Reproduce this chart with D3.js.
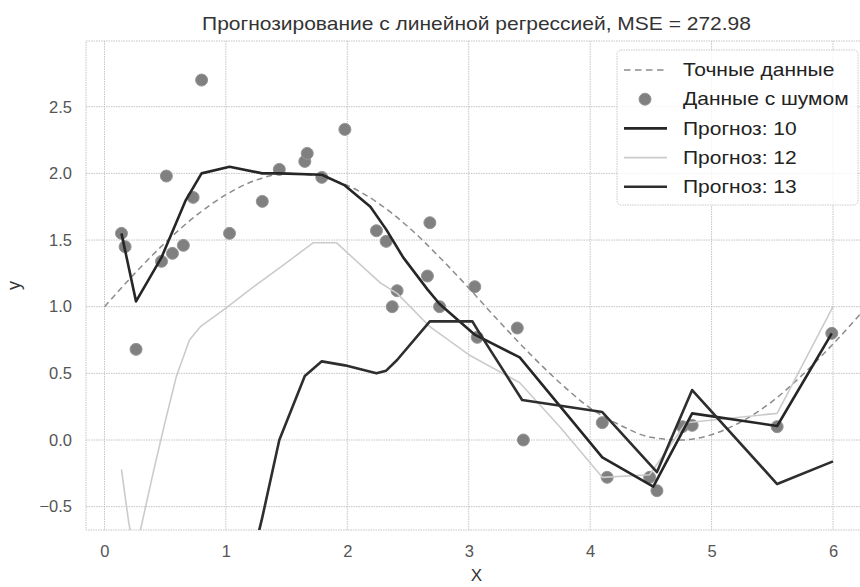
<!DOCTYPE html>
<html>
<head>
<meta charset="utf-8">
<script src="https://cdn.jsdelivr.net/npm/d3@7"></script>
<style>
  html, body { margin: 0; padding: 0; background: #fff; }
  svg { display: block; font-family: "Liberation Sans", Arial, sans-serif; }
</style>
</head>
<body>
<svg id="chart" width="860" height="587"></svg>
<script>
// Exact curve, sampled
const trueX = [0, 0.25, 0.5, 0.75, 1.0, 1.25, 1.5, 1.75, 2.0, 2.25, 2.5, 2.75, 3.0, 3.25, 3.5, 3.75, 4.0, 4.25, 4.5, 4.75, 5.0, 5.25, 5.5, 5.75, 6.0, 6.25];
const trueY = [1.00, 1.25, 1.48, 1.68, 1.84, 1.95, 2.00, 1.98, 1.91, 1.78, 1.60, 1.38, 1.14, 0.89, 0.65, 0.43, 0.24, 0.11, 0.02, 0.00, 0.04, 0.14, 0.29, 0.49, 0.72, 0.97];

// Noisy observations
const noisyX = [0.14, 0.17, 0.26, 0.47, 0.51, 0.56, 0.65, 0.73, 0.80, 1.03, 1.30, 1.44, 1.65, 1.67, 1.79, 1.98, 2.24, 2.32, 2.37, 2.41, 2.66, 2.68, 2.76, 3.05, 3.07, 3.40, 3.45, 4.10, 4.14, 4.49, 4.55, 4.76, 4.84, 5.54, 5.99];
const noisyY = [1.55, 1.45, 0.68, 1.34, 1.98, 1.40, 1.46, 1.82, 2.70, 1.55, 1.79, 2.03, 2.09, 2.15, 1.97, 2.33, 1.57, 1.49, 1.00, 1.12, 1.23, 1.63, 1.00, 1.15, 0.77, 0.84, 0.00, 0.13, -0.28, -0.28, -0.38, 0.10, 0.11, 0.10, 0.80];

// Forecast 10
const f10X = [0.14, 0.26, 0.47, 0.67, 0.80, 1.03, 1.30, 1.44, 1.79, 1.98, 2.19, 2.32, 2.46, 2.66, 2.76, 3.05, 3.42, 4.10, 4.52, 4.84, 5.54, 5.99];
const f10Y = [1.55, 1.04, 1.37, 1.80, 2.00, 2.05, 2.00, 2.00, 1.99, 1.91, 1.75, 1.58, 1.37, 1.13, 1.02, 0.79, 0.62, -0.13, -0.35, 0.20, 0.105, 0.80];

// Forecast 12
const f12X = [0.14, 0.20, 0.25, 0.30, 0.40, 0.49, 0.59, 0.70, 0.79, 1.00, 1.20, 1.47, 1.72, 1.91, 2.27, 2.41, 2.68, 3.00, 3.42, 3.75, 4.10, 4.49, 4.79, 5.54, 6.00];
const f12Y = [-0.22, -0.62, -0.85, -0.66, -0.25, 0.10, 0.47, 0.75, 0.85, 0.99, 1.13, 1.31, 1.48, 1.48, 1.18, 1.10, 0.85, 0.64, 0.43, 0.10, -0.28, -0.26, 0.13, 0.20, 1.00];

// Forecast 13
const f13X = [1.03, 1.30, 1.44, 1.65, 1.79, 1.98, 2.24, 2.32, 2.41, 2.68, 3.03, 3.09, 3.44, 4.10, 4.55, 4.84, 5.54, 6.00];
const f13Y = [-1.60, -0.58, 0.00, 0.48, 0.59, 0.56, 0.50, 0.52, 0.60, 0.89, 0.89, 0.80, 0.30, 0.21, -0.24, 0.375, -0.33, -0.16];

const xTicks = [0, 1, 2, 3, 4, 5, 6];
const yTicks = [-0.5, 0.0, 0.5, 1.0, 1.5, 2.0, 2.5];

const legendLabels = ["Точные данные", "Данные с шумом", "Прогноз: 10", "Прогноз: 12", "Прогноз: 13"];
const titleText = "Прогнозирование с линейной регрессией, MSE = 272.98";

const svg = d3.select("#chart");
const plot = { left: 86, top: 41, right: 867, bottom: 530 };

const x = d3.scaleLinear().domain([-0.152, 6.28]).range([plot.left, plot.right]);
const y = d3.scaleLinear().domain([-0.675, 2.993]).range([plot.bottom, plot.top]);

const gridColor = "#c4c4c4";
const wide = 1.2; // horizontal stretch of title and legend lettering

// Clip region for the axes
svg.append("defs").append("clipPath").attr("id", "clip")
  .append("rect")
  .attr("x", plot.left).attr("y", plot.top)
  .attr("width", plot.right - plot.left).attr("height", plot.bottom - plot.top);

// Grid
const grid = svg.append("g");
grid.selectAll("line.gx").data(xTicks).join("line")
  .attr("x1", d => x(d)).attr("x2", d => x(d))
  .attr("y1", plot.top).attr("y2", plot.bottom)
  .attr("stroke", gridColor).attr("stroke-width", 1).attr("stroke-dasharray", "1.5,1");
grid.selectAll("line.gy").data(yTicks).join("line")
  .attr("x1", plot.left).attr("x2", plot.right)
  .attr("y1", d => y(d)).attr("y2", d => y(d))
  .attr("stroke", gridColor).attr("stroke-width", 1).attr("stroke-dasharray", "1.5,1");

// Frame
svg.append("rect")
  .attr("x", plot.left).attr("y", plot.top)
  .attr("width", plot.right - plot.left).attr("height", plot.bottom - plot.top)
  .attr("fill", "none").attr("stroke", gridColor).attr("stroke-dasharray", "1.5,1");

// Tick labels via d3 axes
const xAxis = d3.axisBottom(x).tickValues(xTicks).tickFormat(d3.format("d")).tickSize(0).tickPadding(15);
const yAxis = d3.axisLeft(y).tickValues(yTicks).tickFormat(d3.format(".1f")).tickSize(0).tickPadding(14);

const gx = svg.append("g").attr("transform", `translate(0,${plot.bottom})`).call(xAxis);
const gy = svg.append("g").attr("transform", `translate(${plot.left},0)`).call(yAxis);
[gx, gy].forEach(g => {
  g.select(".domain").remove();
  g.selectAll("text").attr("font-size", 16.5).attr("fill", "#555")
    .attr("font-family", "Liberation Sans, Arial, sans-serif");
});
gx.selectAll("text").attr("dy", "0.72em");
gy.selectAll("text").text(d => d3.format(".1f")(d).replace("-", "\u2212"));

const marks = svg.append("g").attr("clip-path", "url(#clip)");
const line = d3.line().x(d => x(d[0])).y(d => y(d[1]));

// Exact data, dashed
marks.append("path")
  .datum(d3.zip(trueX, trueY))
  .attr("d", d3.line().curve(d3.curveMonotoneX).x(d => x(d[0])).y(d => y(d[1])))
  .attr("fill", "none").attr("stroke", "#8c8c8c").attr("stroke-width", 1.5)
  .attr("stroke-dasharray", "6,4");

// Noisy points
marks.selectAll("circle.pt").data(d3.zip(noisyX, noisyY)).join("circle")
  .attr("cx", d => x(d[0])).attr("cy", d => y(d[1])).attr("r", 6)
  .attr("fill", "#808080").attr("stroke", "#959595").attr("stroke-width", 1);

// Forecast lines
marks.append("path").datum(d3.zip(f12X, f12Y)).attr("d", line)
  .attr("fill", "none").attr("stroke", "#cbcbcb").attr("stroke-width", 1.6)
  .attr("stroke-linejoin", "round");
marks.append("path").datum(d3.zip(f10X, f10Y)).attr("d", line)
  .attr("fill", "none").attr("stroke", "#262626").attr("stroke-width", 2.6)
  .attr("stroke-linejoin", "round");
marks.append("path").datum(d3.zip(f13X, f13Y)).attr("d", line)
  .attr("fill", "none").attr("stroke", "#2e2e2e").attr("stroke-width", 2.6)
  .attr("stroke-linejoin", "round");

// Title and axis titles
svg.append("text")
  .attr("transform", `translate(${(plot.left + plot.right) / 2},29.5) scale(${wide},1)`)
  .attr("text-anchor", "middle").attr("font-size", 17.5).attr("fill", "#333")
  .text(titleText);
svg.append("text").attr("x", (plot.left + plot.right) / 2).attr("y", 581)
  .attr("text-anchor", "middle").attr("font-size", 17).attr("fill", "#333")
  .text("X");
svg.append("text").attr("transform", `translate(20,${(plot.top + plot.bottom) / 2}) rotate(-90)`)
  .attr("text-anchor", "middle").attr("font-size", 18).attr("fill", "#333")
  .text("y");

// Legend
const lg = svg.append("g");
const lgX = 617, lgY = 50, lgW = 241, lgH = 155, rowH = 29.2;
lg.append("rect").attr("x", lgX).attr("y", lgY).attr("width", lgW).attr("height", lgH)
  .attr("rx", 4).attr("fill", "#fff").attr("fill-opacity", 0.8)
  .attr("stroke", "#c8c8c8").attr("stroke-dasharray", "1.5,1");
const styles = [
  { type: "dash", color: "#8c8c8c", w: 1.5 },
  { type: "dot" },
  { type: "line", color: "#262626", w: 2.6 },
  { type: "line", color: "#cbcbcb", w: 1.6 },
  { type: "line", color: "#2e2e2e", w: 2.6 }
];
legendLabels.forEach((lab, i) => {
  const cy = lgY + 20 + i * rowH;
  const s = styles[i];
  if (s.type === "dot") {
    lg.append("circle").attr("cx", 645).attr("cy", cy).attr("r", 6)
      .attr("fill", "#808080").attr("stroke", "#959595");
  } else {
    lg.append("line").attr("x1", 624).attr("x2", 667).attr("y1", cy).attr("y2", cy)
      .attr("stroke", s.color).attr("stroke-width", s.w)
      .attr("stroke-dasharray", s.type === "dash" ? "6.5,4.5" : null);
  }
  lg.append("text").attr("transform", `translate(683,${cy}) scale(${wide},1)`)
    .attr("dy", "0.35em").attr("font-size", 17.5).attr("fill", "#222").text(lab);
});
</script>
</body>
</html>
